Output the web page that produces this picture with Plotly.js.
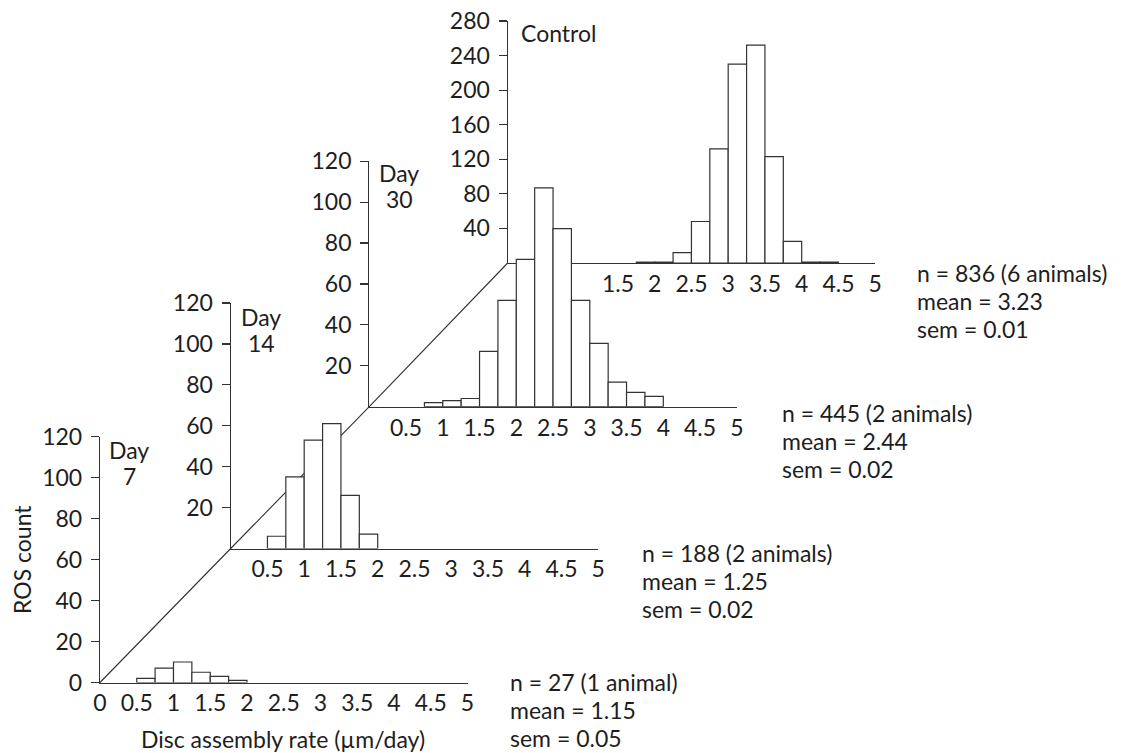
<!DOCTYPE html>
<html><head><meta charset="utf-8">
<script src="https://cdn.plot.ly/plotly-3.0.1.min.js"></script>
<style>html,body{margin:0;padding:0;background:#fff}</style>
</head><body><div id="chart" style="width:1126px;height:753px"></div>
<script>
// ---- data ----
const panelNames = ['Control', 'Day 30', 'Day 14', 'Day 7'];
const binWidth = 0.25;
const controlBinStarts = [1.75, 2.0, 2.25, 2.5, 2.75, 3.0, 3.25, 3.5, 3.75, 4.0, 4.25];
const controlCounts    = [1, 1, 12, 48, 132, 230, 252, 123, 25, 1, 1];
const day30BinStarts = [0.75, 1.0, 1.25, 1.5, 1.75, 2.0, 2.25, 2.5, 2.75, 3.0, 3.25, 3.5, 3.75];
const day30Counts    = [2, 3, 4, 27, 52, 72, 107, 87, 52, 31, 12, 7, 5];
const day14BinStarts = [0.5, 0.75, 1.0, 1.25, 1.5, 1.75];
const day14Counts    = [6, 35, 53, 61, 26, 7];
const day7BinStarts = [0.5, 0.75, 1.0, 1.25, 1.5, 1.75];
const day7Counts    = [2, 7, 10, 5, 3, 1];
const nValues   = [836, 445, 188, 27];
const animalText = ['6 animals', '2 animals', '2 animals', '1 animal'];
const meanValues = ['3.23', '2.44', '1.25', '1.15'];
const semValues  = ['0.01', '0.02', '0.02', '0.05'];
const xTicksFull   = [0, 0.5, 1, 1.5, 2, 2.5, 3, 3.5, 4, 4.5, 5];
const xTicksNoZero = [0.5, 1, 1.5, 2, 2.5, 3, 3.5, 4, 4.5, 5];
const xTicksControl = [1.5, 2, 2.5, 3, 3.5, 4, 4.5, 5];
const yTicksDay7 = [0, 20, 40, 60, 80, 100, 120];
const yTicksDay = [20, 40, 60, 80, 100, 120];
const yTicksControl = [40, 80, 120, 160, 200, 240, 280];
const xTitle = 'Disc assembly rate (µm/day)';
const yTitle = 'ROS count';

// ---- geometry ----
const W = 1126, H = 753;
const FONT = 'Lato, "Open Sans", sans-serif';
const FS = 23;
const INK = '#1e1e1e';
const LINE = '#333';
const px = v => v / W;
const py = v => (H - v) / H;
const panelWidth = 367.5;
const panels = [
  {ox: 507.7, oy: 263,   h: 242,   ymax: 280, bins: controlBinStarts, counts: controlCounts, xt: xTicksControl, yt: yTicksControl},
  {ox: 369.3, oy: 406.7, h: 245.5, ymax: 120, bins: day30BinStarts, counts: day30Counts, xt: xTicksNoZero, yt: yTicksDay},
  {ox: 230.7, oy: 548.5, h: 245.5, ymax: 120, bins: day14BinStarts, counts: day14Counts, xt: xTicksNoZero, yt: yTicksDay},
  {ox: 100,   oy: 682.5, h: 246,   ymax: 120, bins: day7BinStarts, counts: day7Counts, xt: xTicksFull, yt: yTicksDay7}
];

const data = [];
const layout = {
  width: W, height: H,
  margin: {l: 0, r: 0, t: 0, b: 0},
  paper_bgcolor: '#fff',
  plot_bgcolor: 'rgba(0,0,0,0)',
  showlegend: false,
  font: {family: FONT, size: FS, color: INK},
  shapes: [], annotations: []
};

panels.forEach((p, i) => {
  const sfx = i === 0 ? '' : String(i + 1);
  const xa = 'xaxis' + sfx, ya = 'yaxis' + sfx;
  const xid = 'x' + sfx, yid = 'y' + sfx;
  p.xdom = [px(p.ox), px(p.ox + panelWidth)];
  p.ydom = [py(p.oy), py(p.oy - p.h)];
  data.push({
    type: 'bar', x: p.bins, y: p.counts, width: binWidth, offset: 0,
    xaxis: xid, yaxis: yid,
    marker: {color: '#fff', line: {color: LINE, width: 1.2}},
    hoverinfo: 'skip'
  });
  layout[xa] = {
    domain: p.xdom, range: [0, 5], anchor: yid,
    showline: true, linecolor: LINE, linewidth: 1.2,
    ticks: '', tickvals: p.xt, showgrid: false, zeroline: false,
    tickfont: {family: FONT, size: FS, color: INK}, ticklabelstandoff: 0,
    fixedrange: true
  };
  layout[ya] = {
    domain: p.ydom, range: [0, p.ymax], anchor: xid,
    showline: true, linecolor: LINE, linewidth: 1.2,
    ticks: 'outside', ticklen: 8, tickwidth: 1.2, tickcolor: LINE,
    tickvals: p.yt, showgrid: false, zeroline: false,
    tickfont: {family: FONT, size: FS, color: INK}, ticklabelstandoff: 4,
    fixedrange: true
  };
});

// diagonal connector through the panel origins (Day 7 -> Control)
const chain = panels.slice().reverse();
let path = '';
chain.forEach((p, k) => { path += (k === 0 ? 'M' : 'L') + p.xdom[0] + ',' + p.ydom[0] + ' '; });
layout.shapes.push({type: 'path', xref: 'paper', yref: 'paper', path: path.trim(),
  line: {color: LINE, width: 1.1}, layer: 'below'});

function addText(text, x, y, xanchor, extra) {
  layout.annotations.push(Object.assign({
    xref: 'paper', yref: 'paper', x: px(x), y: py(y),
    xanchor: xanchor, yanchor: 'middle', text: text, showarrow: false,
    font: {family: FONT, size: FS, color: INK}
  }, extra || {}));
}

// panel labels (one line per word)
const labelPos = [
  {x: 519, y: 33, anchor: 'left'},
  {x: 399, y: 173, anchor: 'center'},
  {x: 261, y: 317, anchor: 'center'},
  {x: 129, y: 450, anchor: 'center'}
];
const labelLineGap = 26;
panelNames.forEach((name, i) => {
  name.split(' ').forEach((part, k) => {
    addText(part, labelPos[i].x, labelPos[i].y + k * labelLineGap, labelPos[i].anchor);
  });
});

// statistics blocks
const statPos = [
  {x: 915, y: 273}, {x: 780, y: 413}, {x: 640, y: 553}, {x: 508, y: 682}
];
const statLineGap = 28;
statPos.forEach((s, i) => {
  const lines = [
    'n = ' + nValues[i] + ' (' + animalText[i] + ')',
    'mean = ' + meanValues[i],
    'sem = ' + semValues[i]
  ];
  lines.forEach((t, k) => addText(t, s.x, s.y + k * statLineGap, 'left'));
});

// axis titles
addText(xTitle, 283, 739, 'center');
addText(yTitle, 22, 560, 'center', {textangle: -90});

Plotly.newPlot('chart', data, layout, {displayModeBar: false, staticPlot: true});
</script>
</body></html>
